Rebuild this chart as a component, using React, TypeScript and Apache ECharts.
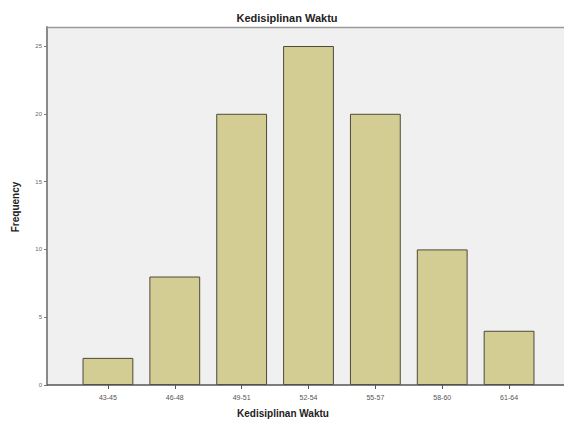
import React, { useEffect, useRef } from "react";
import * as echarts from "echarts";

const categories = ["43-45", "46-48", "49-51", "52-54", "55-57", "58-60", "61-64"];
const frequencies = [2, 8, 20, 25, 20, 10, 4];
const titleText = "Kedisiplinan Waktu";
const xName = "Kedisiplinan Waktu";
const yName = "Frequency";

export default function App() {
  const ref = useRef<HTMLDivElement>(null);
  useEffect(() => {
    if (!ref.current) return;
    const chart = echarts.init(ref.current, null, { renderer: "svg" });
    const font = "'Liberation Sans', Arial, sans-serif";
    chart.setOption({
      animation: false,
      backgroundColor: "#ffffff",
      textStyle: { fontFamily: font },
      title: {
        text: titleText,
        left: 282,
        textAlign: "center",
        top: 7,
        textStyle: { fontSize: 11, fontWeight: "bold", color: "#222", fontFamily: font },
      },
      graphic: [
        { type: "rect", z: -10, shape: { x: 47, y: 27, width: 517, height: 358 }, style: { fill: "#f0f0f0" } },
        { type: "line", z: 5, shape: { x1: 47, y1: 27.5, x2: 564, y2: 27.5 }, style: { stroke: "#9a9a9a", lineWidth: 1.5 } },
        { type: "line", z: 5, shape: { x1: 47, y1: 385, x2: 564, y2: 385 }, style: { stroke: "#555", lineWidth: 1.5 } },
        {
          type: "text",
          z: 5,
          x: 283,
          y: 413,
          style: { text: xName, fill: "#222", font: `bold 10px ${font}`, textAlign: "center", textVerticalAlign: "middle" },
        },
        {
          type: "text",
          z: 5,
          x: 15,
          y: 207,
          rotation: Math.PI / 2,
          style: { text: yName, fill: "#222", font: `bold 10px ${font}`, textAlign: "center", textVerticalAlign: "middle" },
        },
      ],
      grid: { left: 74.5, right: 21.5, top: 27, bottom: 44, containLabel: false },
      xAxis: {
        type: "category",
        data: categories,
        axisLine: { show: false },
        axisTick: { show: true, alignWithLabel: true, length: 4, lineStyle: { color: "#555" } },
        axisLabel: { fontSize: 7, color: "#555", margin: 9 },
      },
      yAxis: {
        type: "value",
        min: 0,
        max: 26.4,
        interval: 5,
        offset: 27.5,
        axisLine: { show: true, lineStyle: { color: "#8a8a8a", width: 2 } },
        axisTick: { show: true, length: 3, lineStyle: { color: "#777" } },
        axisLabel: { fontSize: 6, color: "#666", margin: 5, showMaxLabel: false },
        splitLine: { show: false },
      },
      series: [
        {
          type: "bar",
          data: frequencies,
          barWidth: "76%",
          itemStyle: { color: "#d3cd93", borderColor: "#4a4a3a", borderWidth: 1 },
        },
      ],
    });
    return () => chart.dispose();
  }, []);
  return <div ref={ref} style={{ position: "absolute", left: 0, top: 0, width: 564, height: 429 }} />;
}
